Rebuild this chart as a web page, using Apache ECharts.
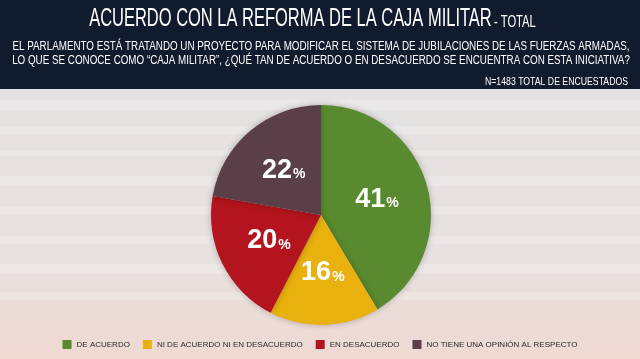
<!DOCTYPE html>
<html><head><meta charset="utf-8">
<script src="https://cdn.jsdelivr.net/npm/echarts@6/dist/echarts.min.js"></script>
<style>html,body{margin:0;padding:0;}#c{width:640px;height:359px;}</style>
</head><body><div id="c"></div>
<script>
const categories = ['DE ACUERDO','NI DE ACUERDO NI EN DESACUERDO','EN DESACUERDO','NO TIENE UNA OPINIÓN AL RESPECTO'];
const values = [41,16,20,22];
const colors = ['#5a8a2f','#e8b10e','#b3141d','#5a3e48'];
const titleMain = 'ACUERDO CON LA REFORMA DE LA CAJA MILITAR';
const titleSub = '- TOTAL';
const question1 = 'EL PARLAMENTO ESTÁ TRATANDO UN PROYECTO PARA MODIFICAR EL SISTEMA DE JUBILACIONES DE LAS FUERZAS ARMADAS,';
const question2 = 'LO QUE SE CONOCE COMO “CAJA MILITAR”, ¿QUÉ TAN DE ACUERDO O EN DESACUERDO SE ENCUENTRA CON ESTA INICIATIVA?';
const sampleNote = 'N=1483 TOTAL DE ENCUESTADOS';
const FONT = "Liberation Sans";
const mctx = document.createElement('canvas').getContext('2d');
function tw(s, size){ mctx.font = size + 'px "' + FONT + '"'; return mctx.measureText(s).width; }
const sTitle = 449 / (tw(titleMain + ' ', 25) + tw(titleSub, 17));
const sQ = 617 / tw(question1, 12);
const sN = 143 / tw(sampleNote, 11);
const chart = echarts.init(document.getElementById('c'));
const stripes = [];
[[100,10],[126,8],[150,6],[176,10],[206,8],[236,8],[264,10],[292,8]].forEach(s=>{
  stripes.push({type:'rect',left:0,top:s[0],shape:{width:640,height:s[1]},style:{fill:'rgba(255,255,255,0.22)'},z:-1});
});
chart.setOption({
  backgroundColor:{type:'linear',x:0,y:0,x2:0,y2:1,colorStops:[{offset:0,color:'#e3e2e3'},{offset:0.7,color:'#e7e1e0'},{offset:1,color:'#efd9d2'}]},
  graphic:[
    {type:'rect',left:0,top:0,shape:{width:640,height:89},style:{fill:'#111b2e'},z:0},
    {type:'text',x:312.5,y:7,scaleX:sTitle,z:1,
      style:{text:'{a|'+titleMain+'} {b|'+titleSub+'}',align:'center',
        rich:{a:{fontSize:25,fontFamily:FONT,fill:'#fff'},b:{fontSize:17,fontFamily:FONT,fill:'#fff',padding:[5,0,0,0]}}}},
    {type:'text',x:321,y:40,scaleX:sQ,z:1,style:{text:question1+'\n'+question2,fill:'#fff',fontSize:12,fontFamily:FONT,lineHeight:14,align:'center'}},
    {type:'text',x:628,y:76,scaleX:sN,z:1,style:{text:sampleNote,fill:'#fff',fontSize:11,fontFamily:FONT,align:'right'}}
  ].concat(stripes),
  legend:{bottom:5,left:'center',itemWidth:9,itemHeight:9,itemGap:13,itemTextGap:6,icon:'rect',
    textStyle:{fontSize:8,fontFamily:FONT,color:'#2a2a2a'},data:categories},
  series:[{type:'pie',center:[321,215],radius:[0,110],startAngle:90,clockwise:true,
    data:categories.map((n,i)=>({name:n,value:values[i],itemStyle:{color:colors[i]}})),
    itemStyle:{shadowBlur:6,shadowColor:'rgba(0,0,0,0.25)'},
    label:{show:true,position:'inner',formatter:p=>'{n|'+p.value+'}{p|%}',
      rich:{n:{fontSize:27,fontFamily:FONT,fontWeight:'bold',color:'#fff'},p:{fontSize:14,fontFamily:FONT,fontWeight:'bold',color:'#fff',padding:[8,0,0,1]}}},
    labelLine:{show:false},emphasis:{disabled:true},animation:false}]
});
</script></body></html>
